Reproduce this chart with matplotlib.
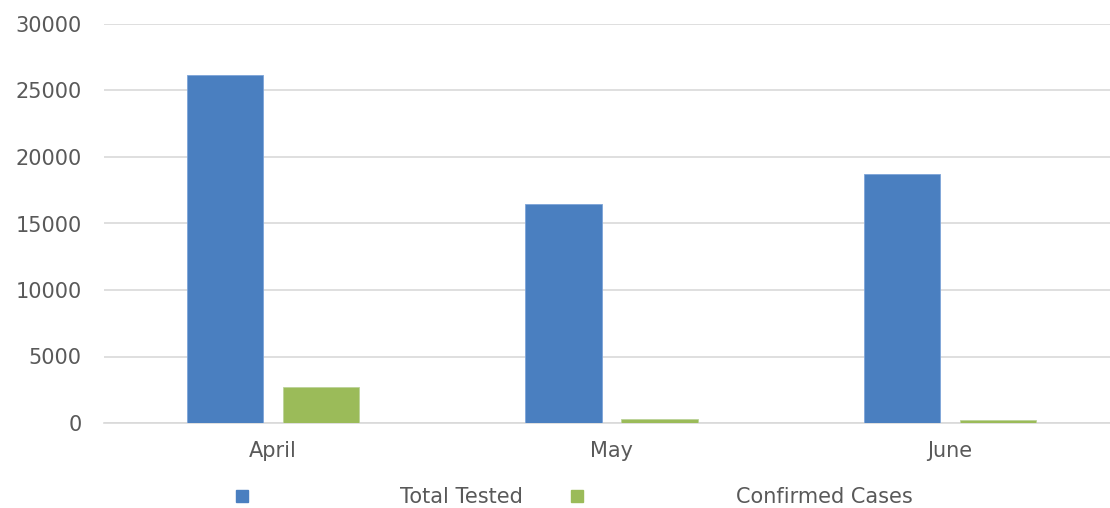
import numpy as np
import matplotlib
matplotlib.use('Agg')
import matplotlib.pyplot as plt
from matplotlib.lines import Line2D

months = ['April', 'May', 'June']
total_tested = [26200, 16450, 18750]
confirmed = [2700, 270, 200]
yticks = [0, 5000, 10000, 15000, 20000, 25000, 30000]

blue = '#4a7fc0'
green = '#9bbb59'
grey = '#595959'

plt.rcParams['font.family'] = ['DejaVu Sans']

fig = plt.figure(figsize=(11.1, 5.08), dpi=100)
ax = fig.add_axes([104/1110, 85/508, 1015/1110, 399/508])

x = np.arange(len(months))
w = 0.225
off = 0.142
ax.bar(x - off, total_tested, w, color=blue, edgecolor='#7da4d8', linewidth=0.6, zorder=3)
ax.bar(x + off, confirmed, w, color=green, edgecolor='#bcd39a', linewidth=0.6, zorder=3)

ax.set_xlim(-0.5, 2.5)
ax.set_ylim(0, 30000)
ax.set_yticks(yticks)
ax.set_yticklabels([str(v) for v in yticks])
ax.set_xticks(x)
ax.set_xticklabels(months)
ax.yaxis.grid(True, color='#d9d9d9', linewidth=1.2, zorder=0)
for s in ['top', 'right', 'left']:
    ax.spines[s].set_visible(False)
ax.spines['bottom'].set_color('#d9d9d9')
ax.spines['bottom'].set_linewidth(1.2)
ax.tick_params(length=0, labelsize=15, labelcolor=grey)
ax.tick_params(axis='y', pad=16)
ax.tick_params(axis='x', pad=13)

handles = [Line2D([], [], marker='s', linestyle='', markersize=8, color=blue),
           Line2D([], [], marker='s', linestyle='', markersize=8, color=green)]
fig.legend(handles, ['Total Tested', 'Confirmed Cases'], loc='center',
           bbox_to_anchor=(574/1110, 1 - 497/508), ncol=2, frameon=False,
           handletextpad=7.3, columnspacing=2.3, fontsize=15, labelcolor=grey,
           handlelength=0.6)

fig.savefig('out.png', dpi=100)
